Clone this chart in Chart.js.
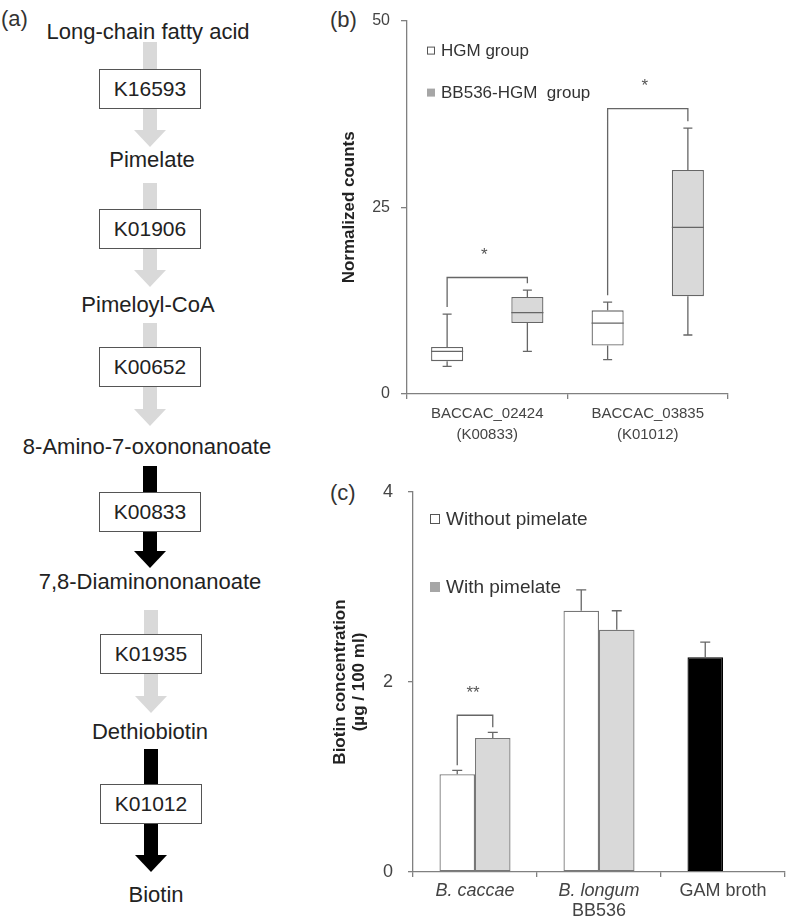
<!DOCTYPE html>
<html>
<head>
<meta charset="utf-8">
<script src="https://cdn.jsdelivr.net/npm/chart.js@4.4.0/dist/chart.umd.min.js"></script>
<style>
  html, body { margin: 0; padding: 0; background: #fff; }
  body { width: 787px; height: 918px; position: relative; overflow: hidden; font-family: "Liberation Sans", Arial, sans-serif; color: #222; }
  .tag { position: absolute; font-size: 22px; color: #333; line-height: 1; }
  .metab { position: absolute; font-size: 22px; white-space: nowrap; transform: translate(-50%, -50%); color: #222; }
  .shaft { position: absolute; width: 14px; }
  .head { position: absolute; width: 0; height: 0; border-left: 16.5px solid transparent; border-right: 16.5px solid transparent; border-top: 17px solid; }
  .ko { position: absolute; width: 100px; height: 38px; border: 1px solid #555; background: #fff; font-size: 21px; line-height: 38px; text-align: center; color: #222; }
  canvas { position: absolute; }
</style>
</head>
<body>
<div class="tag" style="left:1px;top:8px">(a)</div>
<div class="tag" style="left:330px;top:9px">(b)</div>
<div class="tag" style="left:330px;top:482px">(c)</div>
<div id="pathway"></div>
<canvas id="boxChart" width="440" height="460" style="left:330px;top:0px"></canvas>
<canvas id="barChart" width="457" height="458" style="left:330px;top:460px"></canvas>
<script>
// ---- (a) biotin pathway ----
const metabolites = ['Long-chain fatty acid', 'Pimelate', 'Pimeloyl-CoA', '8-Amino-7-oxononanoate',
  '7,8-Diaminononanoate', 'Dethiobiotin', 'Biotin'];
const enzymes = ['K16593', 'K01906', 'K00652', 'K00833', 'K01935', 'K01012'];
const foundInCaccae = ['K00833', 'K01012'];

// ---- (b) normalized counts, box plots ----
const genes = [['BACCAC_02424', '(K00833)'], ['BACCAC_03835', '(K01012)']];
const hgmMin = [3.7, 4.6];
const hgmQ1 = [4.4, 6.5];
const hgmMedian = [5.7, 9.5];
const hgmQ3 = [6.3, 11.2];
const hgmMax = [10.7, 12.3];
const bbMin = [5.7, 7.9];
const bbQ1 = [9.5, 13.1];
const bbMedian = [10.9, 22.3];
const bbQ3 = [13.0, 30.0];
const bbMax = [13.9, 35.6];
const boxSigTop = [15.6, 38.2];
const boxSigMark = ['*', '*'];

// ---- (c) biotin concentration ----
const strains = ['B. caccae', 'B. longum', 'GAM broth'];
const strainNotes = ['', 'BB536', ''];
const withoutMean = [1.03, 2.75, 2.26];
const withoutErr = [0.04, 0.22, 0.16];
const withMean = [1.41, 2.55, null];
const withErr = [0.06, 0.20, null];
const barSigTop = [1.65, null, null];
const barSigMark = ['**', '', ''];

// pathway drawing (layout only)
const metY = [32, 160, 305, 447, 582, 732, 895];
const metX = [148, 152, 148, 147, 150, 150, 156];
const arrowTop = [42, 183, 323, 466, 610, 749];
const arrowTip = [147, 287, 426, 568, 713, 872];
const boxTop = [69, 209, 347, 492, 634, 784];
const arrowX = [150, 150, 150, 150, 151, 151];
const pw = document.getElementById('pathway');
enzymes.forEach((k, i) => {
  const col = foundInCaccae.includes(k) ? '#000' : '#d9d9d9';
  const cx = arrowX[i];
  const shaft = document.createElement('div');
  shaft.className = 'shaft';
  shaft.style.cssText = `left:${cx - 7}px;top:${arrowTop[i]}px;height:${arrowTip[i] - 17 - arrowTop[i] + 1}px;background:${col}`;
  pw.appendChild(shaft);
  const head = document.createElement('div');
  head.className = 'head';
  head.style.cssText = `left:${cx - 16.5}px;top:${arrowTip[i] - 17}px;border-top-color:${col}`;
  pw.appendChild(head);
  const box = document.createElement('div');
  box.className = 'ko';
  box.style.left = (cx - 51) + 'px';
  box.style.top = boxTop[i] + 'px';
  box.textContent = k;
  pw.appendChild(box);
});
metabolites.forEach((m, i) => {
  const d = document.createElement('div');
  d.className = 'metab';
  d.style.left = metX[i] + 'px';
  d.style.top = metY[i] + 'px';
  d.textContent = m;
  pw.appendChild(d);
});

Chart.defaults.font.family = '"Liberation Sans", Arial, sans-serif';
Chart.defaults.color = '#444';
const axisColor = '#808080';
const lineColor = '#666';

function drawLegend(ctx, items, x, ys, size, font) {
  ctx.font = font;
  ctx.textBaseline = 'middle';
  ctx.textAlign = 'left';
  items.forEach((it, i) => {
    ctx.fillStyle = it.fill;
    ctx.fillRect(x, ys[i] - size / 2, size, size);
    if (it.stroke) {
      ctx.strokeStyle = it.stroke;
      ctx.lineWidth = 1;
      ctx.strokeRect(x + 0.5, ys[i] - size / 2 + 0.5, size - 1, size - 1);
    }
    ctx.fillStyle = '#333';
    ctx.fillText(it.text, x + size + (size > 8 ? 6 : 6), ys[i] + 1);
  });
}

const boxStats = [
  { min: hgmMin, q1: hgmQ1, med: hgmMedian, q3: hgmQ3, max: hgmMax },
  { min: bbMin, q1: bbQ1, med: bbMedian, q3: bbQ3, max: bbMax },
];

const boxExtras = {
  id: 'boxExtras',
  afterDatasetsDraw(chart) {
    const { ctx, chartArea } = chart;
    const y = chart.scales.y;
    ctx.save();
    ctx.strokeStyle = lineColor;
    ctx.lineWidth = 1.3;
    boxStats.forEach((st, i) => {
      chart.getDatasetMeta(i).data.forEach((bar, j) => {
        const x = bar.x, hw = bar.width / 2;
        const pMax = y.getPixelForValue(st.max[j]);
        const pQ3 = y.getPixelForValue(st.q3[j]);
        const pMed = y.getPixelForValue(st.med[j]);
        const pQ1 = y.getPixelForValue(st.q1[j]);
        const pMin = y.getPixelForValue(st.min[j]);
        ctx.beginPath();
        ctx.moveTo(x, pQ3); ctx.lineTo(x, pMax);
        ctx.moveTo(x - 4.5, pMax); ctx.lineTo(x + 4.5, pMax);
        ctx.moveTo(x, pQ1); ctx.lineTo(x, pMin);
        ctx.moveTo(x - 4.5, pMin); ctx.lineTo(x + 4.5, pMin);
        ctx.moveTo(x - hw, pMed); ctx.lineTo(x + hw, pMed);
        ctx.stroke();
      });
    });
    // significance brackets
    ctx.fillStyle = '#555';
    ctx.font = '17px "Liberation Sans", Arial, sans-serif';
    ctx.textAlign = 'center';
    ctx.textBaseline = 'middle';
    genes.forEach((g, j) => {
      const a = chart.getDatasetMeta(0).data[j];
      const b = chart.getDatasetMeta(1).data[j];
      const top = y.getPixelForValue(boxSigTop[j]);
      const la = y.getPixelForValue(hgmMax[j]) - 7;
      const lb = y.getPixelForValue(bbMax[j]) - 7;
      ctx.beginPath();
      ctx.moveTo(a.x, la); ctx.lineTo(a.x, top); ctx.lineTo(b.x, top); ctx.lineTo(b.x, lb);
      ctx.stroke();
      ctx.fillText(boxSigMark[j], (a.x + b.x) / 2 - 3, top - 22);
    });
    drawLegend(ctx, [
      { text: 'HGM group', fill: '#fff', stroke: '#555' },
      { text: 'BB536-HGM  group', fill: '#a6a6a6' },
    ], chartArea.left + 20, [chartArea.top + 30, chartArea.top + 72], 8, '17px "Liberation Sans", Arial, sans-serif');
    ctx.restore();
  }
};

new Chart(document.getElementById('boxChart'), {
  type: 'bar',
  data: {
    labels: genes,
    datasets: [
      {
        label: 'HGM group',
        data: genes.map((_, j) => [hgmQ1[j], hgmQ3[j]]),
        backgroundColor: '#fff',
        borderColor: lineColor,
        borderWidth: 1.3,
        borderSkipped: false,
        barPercentage: 0.4,
        categoryPercentage: 1.0,
      },
      {
        label: 'BB536-HGM group',
        data: genes.map((_, j) => [bbQ1[j], bbQ3[j]]),
        backgroundColor: '#d9d9d9',
        borderColor: lineColor,
        borderWidth: 1.3,
        borderSkipped: false,
        barPercentage: 0.4,
        categoryPercentage: 1.0,
      },
    ],
  },
  options: {
    responsive: false,
    animation: false,
    layout: { padding: { left: 0, top: 20, right: 42, bottom: 10 } },
    plugins: { legend: { display: false }, tooltip: { enabled: false } },
    scales: {
      x: {
        grid: { drawOnChartArea: false, tickLength: 5, color: axisColor, lineWidth: 1.3 },
        border: { display: true, color: axisColor, width: 1.3 },
        ticks: { font: { size: 15, lineHeight: 1.4 }, color: '#444', padding: 4, maxRotation: 0, autoSkip: false },
        afterFit: s => { s.height = 56; },
      },
      y: {
        min: 0,
        max: 50,
        ticks: { stepSize: 25, font: { size: 16 }, color: '#444', padding: 11 },
        grid: { drawOnChartArea: false, tickLength: 6, color: axisColor, lineWidth: 1.3 },
        border: { display: true, color: axisColor, width: 1.3 },
        title: {
          display: true,
          text: 'Normalized counts',
          color: '#222',
          font: { size: 17, weight: 'bold', lineHeight: 1.2 },
          padding: { top: 9, bottom: 0 },
        },
        afterFit: s => { s.width = 77; },
      },
    },
  },
  plugins: [boxExtras],
});

const barExtras = {
  id: 'barExtras',
  afterDatasetsDraw(chart) {
    const { ctx, chartArea } = chart;
    const y = chart.scales.y, x = chart.scales.x;
    ctx.save();
    ctx.strokeStyle = lineColor;
    ctx.lineWidth = 1.3;
    [[withoutMean, withoutErr], [withMean, withErr]].forEach(([means, errs], i) => {
      chart.getDatasetMeta(i).data.forEach((bar, j) => {
        if (means[j] == null || errs[j] == null) return;
        const top = y.getPixelForValue(means[j] + errs[j]);
        ctx.beginPath();
        ctx.moveTo(bar.x, bar.y); ctx.lineTo(bar.x, top);
        ctx.moveTo(bar.x - 5, top); ctx.lineTo(bar.x + 5, top);
        ctx.stroke();
      });
    });
    ctx.fillStyle = '#555';
    ctx.font = '17px "Liberation Sans", Arial, sans-serif';
    ctx.textAlign = 'center';
    ctx.textBaseline = 'middle';
    strains.forEach((s, j) => {
      if (barSigTop[j] == null) return;
      const a = chart.getDatasetMeta(0).data[j];
      const b = chart.getDatasetMeta(1).data[j];
      const top = y.getPixelForValue(barSigTop[j]);
      const la = y.getPixelForValue(withoutMean[j] + withoutErr[j]) - 5;
      const lb = y.getPixelForValue(withMean[j] + withErr[j]) - 5;
      ctx.beginPath();
      ctx.moveTo(a.x, la); ctx.lineTo(a.x, top); ctx.lineTo(b.x, top); ctx.lineTo(b.x, lb);
      ctx.stroke();
      ctx.fillText(barSigMark[j], (a.x + b.x) / 2 - 2, top - 22);
    });
    // category labels (species names in italics)
    const italic = new Set(['B. caccae', 'B. longum']);
    ctx.fillStyle = '#444';
    strains.forEach((s, j) => {
      const px = x.getPixelForValue(j);
      ctx.font = (italic.has(s) ? 'italic ' : '') + '18px "Liberation Sans", Arial, sans-serif';
      ctx.fillText(s, px, chartArea.bottom + 19);
      if (strainNotes[j]) {
        ctx.font = '18px "Liberation Sans", Arial, sans-serif';
        ctx.fillText(strainNotes[j], px, chartArea.bottom + 39);
      }
    });
    drawLegend(ctx, [
      { text: 'Without pimelate', fill: '#fff', stroke: '#555' },
      { text: 'With pimelate', fill: '#a6a6a6' },
    ], chartArea.left + 17, [chartArea.top + 27, chartArea.top + 95], 10, '19px "Liberation Sans", Arial, sans-serif');
    ctx.restore();
  }
};

new Chart(document.getElementById('barChart'), {
  type: 'bar',
  data: {
    labels: strains,
    datasets: [
      {
        label: 'Without pimelate',
        data: withoutMean,
        backgroundColor: strains.map(s => (s === 'GAM broth' ? '#000' : '#fff')),
        borderColor: strains.map(s => (s === 'GAM broth' ? '#000' : '#777')),
        borderWidth: 1.3,
        borderSkipped: false,
        barPercentage: 1.0,
        categoryPercentage: 0.573,
      },
      {
        label: 'With pimelate',
        data: withMean,
        backgroundColor: '#d9d9d9',
        borderColor: '#777',
        borderWidth: 1.3,
        borderSkipped: false,
        barPercentage: 1.0,
        categoryPercentage: 0.573,
      },
    ],
  },
  options: {
    responsive: false,
    animation: false,
    layout: { padding: { left: 0, top: 32, right: 2, bottom: 0 } },
    plugins: { legend: { display: false }, tooltip: { enabled: false } },
    scales: {
      x: {
        grid: { drawOnChartArea: false, tickLength: 5, color: axisColor, lineWidth: 1.3 },
        border: { display: true, color: axisColor, width: 1.3 },
        ticks: { display: false },
        afterFit: s => { s.height = 46; },
      },
      y: {
        min: 0,
        max: 4,
        ticks: { stepSize: 2, font: { size: 18 }, color: '#444', padding: 15 },
        grid: { drawOnChartArea: false, tickLength: 5, color: axisColor, lineWidth: 1.3 },
        border: { display: true, color: axisColor, width: 1.3 },
        title: {
          display: true,
          text: ['Biotin concentration', '(\u00b5g / 100 ml)'],
          color: '#222',
          font: { size: 17, weight: 'bold', lineHeight: 1.1 },
          padding: { top: 1, bottom: 0 },
        },
        afterFit: s => { s.width = 83; },
      },
    },
  },
  plugins: [barExtras],
});
</script>
</body>
</html>
